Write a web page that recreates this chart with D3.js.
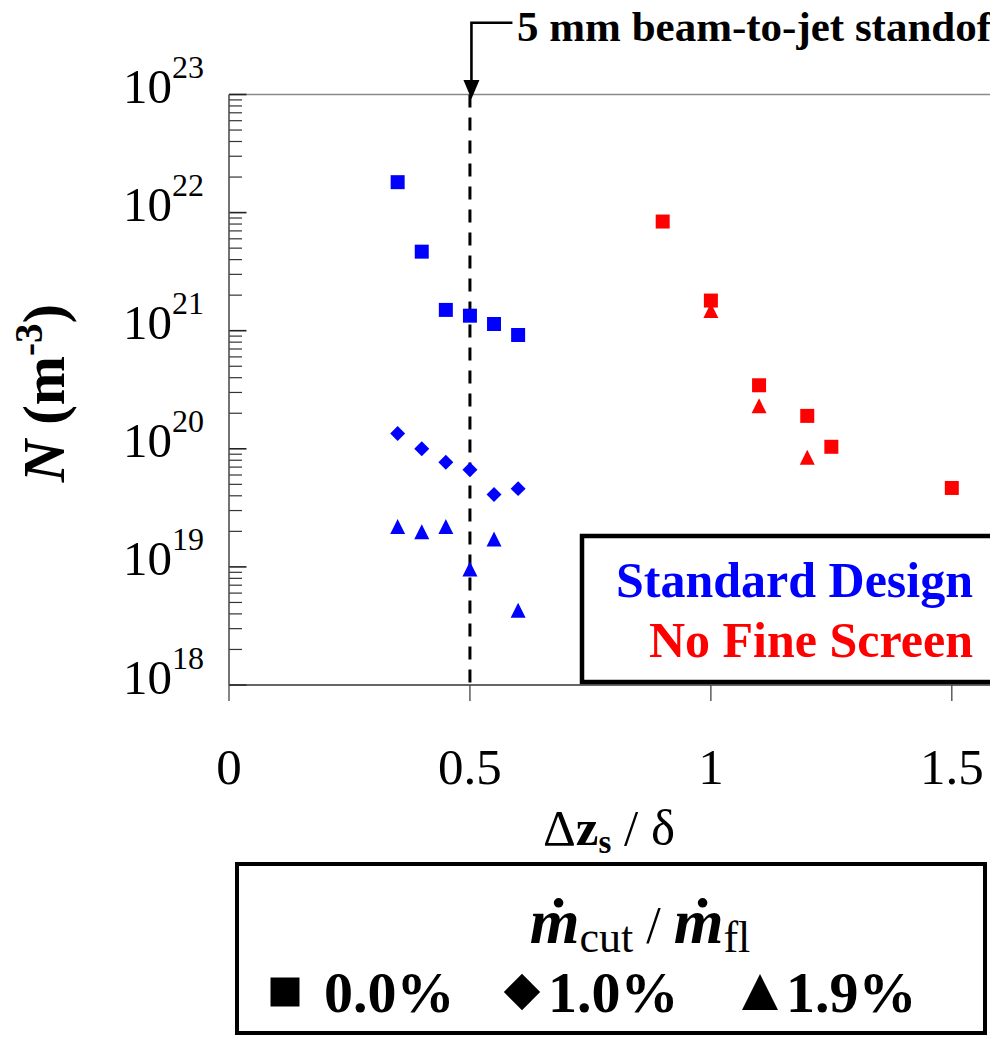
<!DOCTYPE html>
<html>
<head>
<meta charset="utf-8">
<script src="https://cdn.jsdelivr.net/npm/d3@7"></script>
<style>
  html, body { margin: 0; padding: 0; background: #fff; }
  svg { display: block; }
  text { font-family: "Liberation Serif", "Times New Roman", "DejaVu Serif", serif; fill: #000; }
</style>
</head>
<body>
<svg id="chart" width="990" height="1037"></svg>
<script>
// ---------- data ----------
const xTickValues = [0, 0.5, 1, 1.5];
const xTickLabels = ["0", "0.5", "1", "1.5"];
const yTickExponents = [18, 19, 20, 21, 22, 23];

// Standard Design (blue)
const stdX        = [0.35, 0.40, 0.45, 0.50, 0.55, 0.60];
const stdSquare   = [1.81e22, 4.67e21, 1.50e21, 1.34e21, 1.14e21, 9.2e20];   // 0.0 %
const stdDiamond  = [1.35e20, 1.00e20, 7.7e19, 6.65e19, 4.1e19, 4.6e19];     // 1.0 %
const stdTriangle = [2.2e19, 1.98e19, 2.2e19, 9.6e18, 1.72e19, 4.3e18];      // 1.9 %

// No Fine Screen (red)
const nfsSquareX   = [0.90, 1.00, 1.10, 1.20, 1.25, 1.50];
const nfsSquare    = [8.4e21, 1.80e21, 3.45e20, 1.90e20, 1.04e20, 4.66e19];  // 0.0 %
const nfsTriangleX = [1.00, 1.10, 1.20];
const nfsTriangle  = [1.48e21, 2.31e20, 8.5e19];                              // 1.9 %

const standoffX = 0.5;
const legendItems = ["0.0%", "1.0%", "1.9%"];
const legendShapes = ["square", "diamond", "triangle"];

// ---------- layout ----------
const svg = d3.select("#chart");
const plot = { left: 229, right: 1000, top: 94.5, bottom: 685 };

const x = d3.scaleLinear().domain([0, 1.6]).range([plot.left, plot.right]);
const y = d3.scaleLog().domain([1e18, 1e23]).range([plot.bottom, plot.top]);

// marker shapes
function shapePath(kind, s) {
  const h = s / 2;
  if (kind === "square") return `M${-h},${-h}H${h}V${h}H${-h}Z`;
  if (kind === "diamond") { const d = h * 1.07; return `M0,${-d}L${d},0L0,${d}L${-d},0Z`; }
  return `M0,${-h}L${h},${h}L${-h},${h}Z`;
}

// top border of plot area
svg.append("line")
  .attr("x1", plot.left).attr("x2", plot.right)
  .attr("y1", plot.top).attr("y2", plot.top)
  .attr("stroke", "#8a8a8a").attr("stroke-width", 1.3);

// y axis (ticks inside)
const yAxisG = svg.append("g").attr("transform", `translate(${plot.left},0)`);
const minorVals = [];
for (let e = 18; e < 23; e++) for (let m = 2; m <= 9; m++) minorVals.push(m * Math.pow(10, e));
yAxisG.selectAll("line.minor").data(minorVals).join("line")
  .attr("class", "minor")
  .attr("x1", 0).attr("x2", 13)
  .attr("y1", d => y(d)).attr("y2", d => y(d))
  .attr("stroke", "#333").attr("stroke-width", 1.2);
yAxisG.selectAll("line.major").data(yTickExponents).join("line")
  .attr("class", "major")
  .attr("x1", 0).attr("x2", 17.5)
  .attr("y1", d => y(Math.pow(10, d))).attr("y2", d => y(Math.pow(10, d)))
  .attr("stroke", "#222").attr("stroke-width", 1.6);
yAxisG.append("line")
  .attr("x1", 0).attr("x2", 0).attr("y1", plot.top).attr("y2", plot.bottom)
  .attr("stroke", "#444").attr("stroke-width", 1.5);

// y tick labels
const yLab = svg.append("g");
yTickExponents.forEach(e => {
  const t = yLab.append("text")
    .attr("x", 204).attr("y", y(Math.pow(10, e)) + 8.5)
    .attr("text-anchor", "end")
    .style("font-size", "49px");
  t.append("tspan").text("10");
  t.append("tspan").attr("dy", -25).style("font-size", "32px").text(String(e));
});

// x axis (ticks outside)
const xAxisG = svg.append("g").attr("transform", `translate(0,${plot.bottom})`);
xAxisG.append("line")
  .attr("x1", plot.left).attr("x2", plot.right).attr("y1", 0).attr("y2", 0)
  .attr("stroke", "#333").attr("stroke-width", 1.5);
xAxisG.selectAll("line.tick").data(xTickValues).join("line")
  .attr("class", "tick")
  .attr("x1", d => x(d)).attr("x2", d => x(d))
  .attr("y1", 0).attr("y2", 16)
  .attr("stroke", "#444").attr("stroke-width", 1.3);
xAxisG.selectAll("text").data(xTickValues).join("text")
  .attr("x", d => x(d)).attr("y", 99)
  .attr("text-anchor", "middle")
  .style("font-size", "51px")
  .text((d, i) => xTickLabels[i]);

// x axis title: Δz_s / δ
const xt = svg.append("text")
  .attr("x", 609).attr("y", 845)
  .attr("text-anchor", "middle")
  .style("font-size", "51px");
xt.append("tspan").text("Δ");
xt.append("tspan").style("font-weight", "bold").text("z");
xt.append("tspan").style("font-weight", "bold").style("font-size", "33px").attr("dy", 8).text("s");
xt.append("tspan").attr("dy", -8).text(" / δ");

// y axis title: N (m^-3)
const yt = svg.append("text")
  .attr("transform", "translate(64,393) rotate(-90)")
  .attr("text-anchor", "middle")
  .style("font-size", "59px").style("font-weight", "bold");
yt.append("tspan").style("font-style", "italic").text("N");
yt.append("tspan").text(" (m");
yt.append("tspan").attr("dy", -22).style("font-size", "39px").text("-3");
yt.append("tspan").attr("dy", 22).text(")");

// dashed standoff line
svg.append("line")
  .attr("x1", x(standoffX)).attr("x2", x(standoffX))
  .attr("y1", plot.top).attr("y2", plot.bottom)
  .attr("stroke", "#000").attr("stroke-width", 3)
  .attr("stroke-dasharray", "13,10");

// annotation arrow + text
const ax = x(standoffX) + 1.5;
svg.append("path")
  .attr("d", `M${ax + 41},22.7H${ax}V84`)
  .attr("fill", "none").attr("stroke", "#000").attr("stroke-width", 2.6);
svg.append("path")
  .attr("d", `M${ax - 8},80L${ax + 8},80L${ax},99Z`)
  .attr("fill", "#000");
svg.append("text")
  .attr("x", 517).attr("y", 40.5)
  .style("font-size", "43px").style("font-weight", "bold")
  .text("5 mm beam-to-jet standoff");

// series legend box (Standard Design / No Fine Screen)
svg.append("rect")
  .attr("x", 582).attr("y", 536).attr("width", 430).attr("height", 146)
  .attr("fill", "#fff").attr("stroke", "#000").attr("stroke-width", 4.5);
svg.append("text")
  .attr("x", 973).attr("y", 597).attr("text-anchor", "end")
  .style("font-size", "50px").style("font-weight", "bold")
  .style("fill", "#0000ff").text("Standard Design");
svg.append("text")
  .attr("x", 973).attr("y", 657).attr("text-anchor", "end")
  .style("font-size", "50px").style("font-weight", "bold")
  .style("fill", "#ff0000").text("No Fine Screen");

// ---------- markers ----------
function drawSeries(xs, ys, kind, color, size) {
  svg.append("g").selectAll("path").data(xs).join("path")
    .attr("transform", (d, i) => `translate(${x(d)},${y(ys[i])})`)
    .attr("d", shapePath(kind, size))
    .attr("fill", color);
}
drawSeries(stdX, stdTriangle, "triangle", "#0000ff", 15);
drawSeries(stdX, stdDiamond, "diamond", "#0000ff", 14);
drawSeries(stdX, stdSquare, "square", "#0000ff", 14);
drawSeries(nfsTriangleX, nfsTriangle, "triangle", "#ff0000", 15);
drawSeries(nfsSquareX, nfsSquare, "square", "#ff0000", 14);

// ---------- bottom legend ----------
svg.append("rect")
  .attr("x", 237).attr("y", 864).attr("width", 748).attr("height", 169)
  .attr("fill", "#fff").attr("stroke", "#000").attr("stroke-width", 4);

const lt = svg.append("text")
  .attr("x", 640).attr("y", 943).attr("text-anchor", "middle");
lt.append("tspan").style("font-size", "64px").style("font-weight", "bold").style("font-style", "italic").text("ṁ");
lt.append("tspan").style("font-size", "44px").attr("dy", 9).text("cut");
lt.append("tspan").style("font-size", "52px").attr("dy", -9).text(" / ");
lt.append("tspan").style("font-size", "64px").style("font-weight", "bold").style("font-style", "italic").text("ṁ");
lt.append("tspan").style("font-size", "44px").attr("dy", 9).text("fl");

const keyX = [285, 522, 760];
const keySize = [29, 34, 36];
const textX = [324, 548, 786];
legendItems.forEach((lbl, i) => {
  svg.append("path")
    .attr("transform", `translate(${keyX[i]},${992})`)
    .attr("d", shapePath(legendShapes[i], keySize[i]))
    .attr("fill", "#000");
  svg.append("text")
    .attr("x", textX[i]).attr("y", 1011.5)
    .style("font-size", "58px").style("font-weight", "bold")
    .text(lbl);
});
</script>
</body>
</html>
